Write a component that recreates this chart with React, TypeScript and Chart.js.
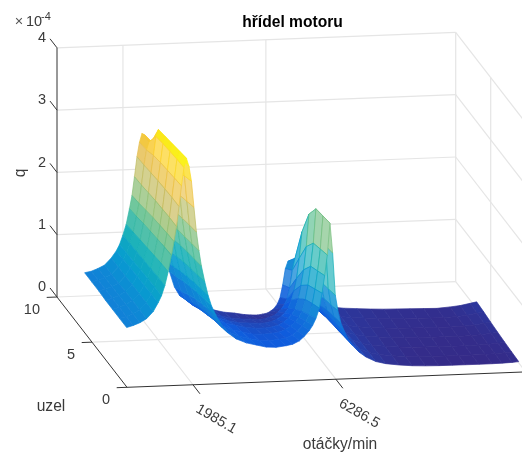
import React, { useEffect, useRef } from "react";
import { Chart, registerables } from "chart.js";

Chart.register(...registerables);

const rpmColumns = [200,400,600,800,1000,1150,1250,1350,1450,1550,1625,1700,1775,1850,1925,2000,2075,2150,2225,2300,2375,2450,2550,2650,2750,2900,3050,3250,3500,3800,4100,4400,4700,5000,5200,5400,5550,5700,5800,5900,6000,6080,6160,6240,6320,6400,6480,6560,6650,6750,6850,7000,7200,7400,7700,8000,8400,8800,9200,9600,10000,10400,10800,11200,11500,11800,12000];
const node1 = [.81,.84,.88,.94,1.05,1.19,1.30,1.46,1.68,1.94,2.16,2.40,2.72,3.05,3.34,3.49,3.36,3.12,2.70,2.30,2.00,1.75,1.50,1.28,1.11,.94,.80,.66,.56,.49,.45,.41,.40,.42,.44,.49,.56,.65,.73,.84,1.00,1.24,1.52,1.85,2.36,1.88,1.20,.95,.75,.62,.50,.38,.27,.19,.11,.07,.04,.02,.01,.005,.004,.003,.002,.003,.006,.012,.02];
const node2 = [.81,.84,.88,.94,1.05,1.19,1.30,1.45,1.67,1.93,2.15,2.40,2.72,3.03,3.33,3.46,3.33,3.06,2.65,2.27,1.97,1.72,1.46,1.24,1.07,.89,.75,.62,.52,.45,.41,.37,.36,.38,.39,.44,.50,.58,.65,.75,.93,1.16,1.45,1.80,2.33,1.85,1.16,.90,.71,.58,.47,.36,.26,.18,.11,.072,.044,.025,.015,.01,.008,.007,.005,.008,.013,.02,.03];
const node3 = [.81,.84,.88,.94,1.05,1.18,1.29,1.44,1.65,1.91,2.13,2.39,2.71,3.01,3.31,3.43,3.30,3.00,2.60,2.23,1.93,1.69,1.42,1.20,1.03,.84,.70,.58,.48,.41,.37,.33,.32,.33,.34,.38,.43,.50,.57,.66,.85,1.08,1.38,1.75,2.30,1.82,1.12,.86,.67,.55,.44,.33,.24,.175,.11,.075,.05,.03,.02,.015,.013,.011,.009,.013,.02,.03,.042];
const node4 = [.81,.84,.88,.94,1.05,1.18,1.28,1.43,1.63,1.89,2.11,2.38,2.70,2.99,3.29,3.40,3.27,2.94,2.53,2.19,1.90,1.65,1.38,1.15,.98,.78,.64,.52,.44,.37,.33,.29,.27,.27,.28,.31,.35,.41,.47,.55,.72,.93,1.18,1.55,2.07,1.60,.98,.76,.60,.50,.40,.31,.22,.165,.11,.078,.055,.036,.026,.021,.018,.016,.013,.02,.028,.043,.056];
const node5 = [.82,.84,.88,.93,1.04,1.17,1.27,1.42,1.61,1.87,2.08,2.36,2.68,2.96,3.26,3.37,3.22,2.86,2.46,2.14,1.84,1.60,1.32,1.09,.92,.70,.56,.46,.38,.31,.26,.22,.21,.20,.20,.22,.25,.30,.35,.42,.55,.70,.90,1.22,1.64,1.22,.78,.60,.49,.42,.35,.28,.20,.155,.11,.082,.06,.044,.034,.029,.026,.022,.019,.028,.038,.06,.074];
const node6 = [.82,.84,.88,.93,1.04,1.16,1.26,1.41,1.59,1.84,2.05,2.34,2.66,2.90,3.03,3.03,2.92,2.64,2.34,2.06,1.78,1.54,1.25,1.02,.85,.61,.47,.38,.31,.24,.19,.15,.13,.12,.11,.12,.14,.17,.21,.26,.33,.42,.60,.88,1.07,.78,.58,.45,.38,.33,.29,.23,.17,.14,.11,.086,.07,.053,.043,.038,.034,.029,.025,.038,.05,.076,.094];
const node7 = [.82,.84,.88,.93,1.04,1.15,1.25,1.40,1.57,1.82,2.03,2.33,2.65,2.88,3.02,3.00,2.85,2.55,2.28,2.02,1.74,1.50,1.20,.96,.79,.54,.40,.32,.26,.19,.14,.10,.08,.05,.04,.034,.045,.06,.09,.13,.20,.30,.50,.76,.88,.66,.48,.37,.32,.28,.25,.20,.15,.13,.11,.09,.075,.06,.05,.045,.04,.035,.03,.045,.06,.09,.11];
const nodeRows = [node1, node2, node3, node4, node5, node6, node7];
const nodeNumbers = [1, 2, 3, 4, 5, 6, 7];

const xTicks = [1985.1, 6286.5];
const yTicks = [0, 5, 10];
const zTicks = [0, 1, 2, 3, 4];
const xMin = 0, xMax = 12000, yMin = 0, yMax = 10, zMin = 0, zMax = 4;
const title = "hřídel motoru";
const xLabel = "otáčky/min";
const yLabel = "uzel";
const zLabel = "q";

const parula = [[.2081,.1663,.5292],[.0591,.3598,.8683],[.0723,.4887,.8467],[.0265,.6137,.8135],[.0843,.6928,.7062],[.3482,.7424,.5473],[.6473,.7456,.4188],[.8824,.7274,.3217],[.988,.8066,.1794],[.9763,.9831,.0538]];
const colorTop = 3.49;

const project = (rpm: number, node: number, q: number) => ({
  x: 127 + (398.7 * rpm) / xMax - 7 * node,
  y: 387.3 - (15.4 * rpm) / xMax - 9.03 * node - 62.3 * q,
});

const mapColor = (q: number, whiten: number) => {
  const t = Math.max(0, Math.min(1, q / colorTop)) * (parula.length - 1);
  const i = Math.min(parula.length - 2, Math.floor(t));
  const a = t - i;
  const c = [0, 1, 2].map((k) => {
    const v = parula[i][k] * (1 - a) + parula[i + 1][k] * a;
    return Math.round(255 * (v * (1 - whiten) + whiten));
  });
  return `rgb(${c[0]},${c[1]},${c[2]})`;
};

const line = (pts: { x: number; y: number }[], color: string, width: number) => ({
  data: pts,
  borderColor: color,
  borderWidth: width,
  backgroundColor: "transparent",
  pointRadius: 0,
  fill: false,
  tension: 0,
});

function buildDatasets() {
  const list: any[] = [];
  const grid = "#e5e5e5";
  const axis = "#333333";
  zTicks.forEach((z) => {
    list.push(line([project(xMin, yMax, z), project(xMax, yMax, z)], grid, 1.2));
    list.push(line([project(xMax, yMax, z), project(xMax, yMin, z)], grid, 1.2));
  });
  xTicks.forEach((r) => {
    list.push(line([project(r, yMax, zMin), project(r, yMax, zMax)], grid, 1.2));
    list.push(line([project(r, yMin, zMin), project(r, yMax, zMin)], grid, 1.2));
  });
  [5].forEach((n) => {
    list.push(line([project(xMin, n, zMin), project(xMax, n, zMin)], grid, 1.2));
    list.push(line([project(xMax, n, zMin), project(xMax, n, zMax)], grid, 1.2));
  });
  list.push(line([project(xMax, yMax, zMin), project(xMax, yMax, zMax)], grid, 1.2));
  for (let c = rpmColumns.length - 2; c >= 0; c--) {
    for (let r = nodeRows.length - 2; r >= 0; r--) {
      const r0 = rpmColumns[c], r1 = rpmColumns[c + 1];
      const n0 = nodeNumbers[r], n1 = nodeNumbers[r + 1];
      const q00 = nodeRows[r][c], q10 = nodeRows[r][c + 1], q01 = nodeRows[r + 1][c], q11 = nodeRows[r + 1][c + 1];
      const mean = (q00 + q10 + q01 + q11) / 4;
      const slope = (Math.abs(q10 - q00) + Math.abs(q11 - q01)) / 2 / (r1 - r0);
      const whiten = Math.max(0, Math.min(0.35, (slope - 0.0015) / 0.009));
      list.push({
        data: [project(r0, n0, q00), project(r1, n0, q10), project(r1, n1, q11), project(r0, n1, q01), project(r0, n0, q00)],
        borderColor: mapColor(mean, 0),
        borderWidth: 0.7,
        backgroundColor: mapColor(mean, whiten),
        pointRadius: 0,
        fill: "shape",
        tension: 0,
      });
    }
  }
  list.push(line([project(xMin, yMax, zMin), project(xMin, yMax, zMax)], axis, 1));
  list.push(line([project(xMin, yMax, zMin), project(xMin, yMin, zMin)], axis, 1));
  list.push(line([project(xMin, yMin, zMin), project(xMax, yMin, zMin)], axis, 1));
  zTicks.forEach((z) => list.push(line([project(xMin, yMax, z), project(xMin, yMax + 1, z)], axis, 1)));
  yTicks.forEach((n) => list.push(line([project(xMin, n, zMin), project(-310, n, zMin)], axis, 1)));
  xTicks.forEach((r) => list.push(line([project(r, yMin, zMin), project(r, -1, zMin)], axis, 1)));
  return list.reverse();
}

const textPlugin = {
  id: "axisText",
  afterDraw(chart: any) {
    const ctx = chart.ctx;
    const sx = chart.scales.x, sy = chart.scales.y;
    const px = (p: { x: number; y: number }) => ({ x: sx.getPixelForValue(p.x), y: sy.getPixelForValue(p.y) });
    const put = (s: string, x: number, y: number, size: number, align: CanvasTextAlign, color = "#3a3a3a", bold = false, rot = 0) => {
      ctx.save();
      ctx.translate(x, y);
      ctx.rotate(rot);
      ctx.font = `${bold ? "bold " : ""}${size}px "Liberation Sans"`;
      ctx.fillStyle = color;
      ctx.textAlign = align;
      ctx.textBaseline = "middle";
      ctx.fillText(s, 0, 0);
      ctx.restore();
    };
    zTicks.forEach((z) => {
      const p = px(project(xMin, yMax, z));
      put(String(z), p.x - 15, p.y - 9.8, 14.5, "center");
    });
    yTicks.forEach((n) => {
      const p = px(project(xMin, n, zMin));
      put(String(n), p.x - 17, p.y + 13, 14.5, "right");
    });
    xTicks.forEach((r) => {
      const p = px(project(r, yMin, zMin));
      put(r.toFixed(1), p.x + 23.3, p.y + 34.4, 14.5, "center", "#3a3a3a", false, Math.PI / 6);
    });
    put(title, 292.5, 22.5, 15.6, "center", "#000000", true);
    put(xLabel, 340, 444.5, 15.6, "center");
    put(yLabel, 51, 406.5, 15.6, "center");
    put(zLabel, 21, 173, 15.6, "center", "#3a3a3a", false, -Math.PI / 2);
    put("×", 19, 22, 14.5, "center", "#555555");
    put("10", 26, 21.5, 14.5, "left");
    put("-4", 41, 16.5, 11, "left");
  },
};

export default function App() {
  const ref = useRef<HTMLCanvasElement>(null);
  useEffect(() => {
    document.body.style.margin = "0";
    const chart = new Chart(ref.current as HTMLCanvasElement, {
      type: "line",
      data: { datasets: buildDatasets() },
      options: {
        responsive: false,
        animation: false,
        layout: { padding: 0 },
        events: [],
        plugins: { legend: { display: false }, title: { display: false }, tooltip: { enabled: false } },
        scales: {
          x: { type: "linear", min: 0, max: 522, display: false },
          y: { type: "linear", min: 0, max: 452, reverse: true, display: false },
        },
      },
      plugins: [textPlugin],
    } as any);
    return () => chart.destroy();
  }, []);
  return <canvas ref={ref} width={522} height={452} style={{ display: "block" }} />;
}
